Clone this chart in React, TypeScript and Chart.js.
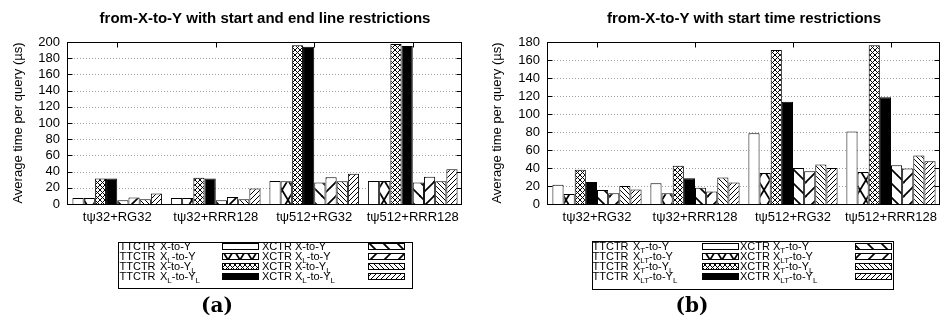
import React, { useEffect, useRef } from "react";
import { Chart, registerables } from "chart.js";

Chart.register(...registerables);

const SANS = '"Liberation Sans", Arial, sans-serif';
const SERIF = '"DejaVu Serif", serif';

const categories = ["tψ32+RG32", "tψ32+RRR128", "tψ512+RG32", "tψ512+RRR128"];
const indexNames = ["TTCTR", "XCTR"];
const yTitle = "Average time per query (µs)";

// (a) start and end line restrictions, average µs per query
const aTitle = "from-X-to-Y with start and end line restrictions";
const aTtctrXY = [7.5, 7.5, 28.5, 28.5];
const aTtctrXLY = [7.5, 7.5, 28, 28.5];
const aTtctrXYL = [31.5, 32.5, 196, 197.5];
const aTtctrXLYL = [31.5, 31.5, 194, 195];
const aXctrXY = [4.5, 4.5, 26.5, 26.5];
const aXctrXLY = [8, 8.5, 33, 33.5];
const aXctrXYL = [6, 6, 28, 28];
const aXctrXLYL = [13, 19, 37.5, 43];
const aQueries = ["X-to-Y", "X_{L}-to-Y", "X-to-Y_{L}", "X_{L}-to-Y_{L}"];
const aTicks = { max: 200, step: 20 };

// (b) start time restrictions, average µs per query
const bTitle = "from-X-to-Y with start time restrictions";
const bTtctrXY = [21.5, 23, 78.5, 80.5];
const bTtctrXLY = [11, 12, 34.5, 35.5];
const bTtctrXYL = [38, 42.5, 171, 176.5];
const bTtctrXLYL = [24.5, 28.5, 113.5, 118.5];
const bXctrXY = [15.5, 18, 40, 43];
const bXctrXLY = [12, 14, 36.5, 39.5];
const bXctrXYL = [20, 29.5, 44, 54];
const bXctrXLYL = [16, 24, 40, 47.5];
const bQueries = ["X_{T}-to-Y", "X_{LT}-to-Y", "X_{T}-to-Y_{L}", "X_{LT}-to-Y_{L}"];
const bTicks = { max: 180, step: 20 };

// fill style of each series, in legend order
const fillKinds = ["empty", "bigX", "fineX", "solid", "bigBack", "bigFwd", "fineBack", "fineFwd"];

function tile(w: number, h: number, lw: number, draw: (g: CanvasRenderingContext2D) => void) {
  const c = document.createElement("canvas");
  c.width = w;
  c.height = h;
  const g = c.getContext("2d")!;
  g.fillStyle = "#fff";
  g.fillRect(0, 0, w, h);
  g.strokeStyle = "#000";
  g.lineWidth = lw;
  g.lineCap = "square";
  draw(g);
  return g.createPattern(c, "repeat")!;
}

function seg(g: CanvasRenderingContext2D, x1: number, y1: number, x2: number, y2: number) {
  g.beginPath();
  g.moveTo(x1, y1);
  g.lineTo(x2, y2);
  g.stroke();
}

function hatch(s: number, lw: number, back: boolean, cross: boolean, h = s) {
  return tile(s, h, lw, (g) => {
    for (let i = -1; i <= 1; i++) {
      for (let j = -1; j <= 1; j++) {
        const ox = i * s;
        const oy = j * h;
        if (back || cross) seg(g, ox, oy, ox + s, oy + h);
        if (!back || cross) seg(g, ox, oy + h, ox + s, oy);
      }
    }
  });
}

function makeFill(kind: string): string | CanvasPattern {
  switch (kind) {
    case "empty":
      return "#ffffff";
    case "solid":
      return "#000000";
    case "bigX":
      return hatch(12, 1.7, true, true, 20);
    case "fineX":
      return hatch(5, 1, true, true);
    case "bigBack":
      return hatch(14, 1.7, true, false);
    case "bigFwd":
      return hatch(14, 1.7, false, false);
    case "fineBack":
      return hatch(5, 1, true, false);
    default:
      return hatch(5, 1, false, false);
  }
}

// Draws text in which _{...} marks a subscript
function drawRich(ctx: CanvasRenderingContext2D, text: string, x: number, baseline: number, size: number) {
  const parts = text.split(/(_\{[^}]*\})/).filter((p) => p.length);
  let cx = x;
  ctx.textAlign = "left";
  ctx.textBaseline = "alphabetic";
  for (const p of parts) {
    if (p.startsWith("_{")) {
      const t = p.slice(2, -1);
      ctx.font = `${Math.round(size * 0.75)}px ${SANS}`;
      ctx.fillText(t, cx, baseline + size * 0.3);
      cx += ctx.measureText(t).width;
    } else {
      ctx.font = `${size}px ${SANS}`;
      ctx.fillText(p, cx, baseline);
      cx += ctx.measureText(p).width;
    }
  }
}

type LegendCol = { prefix: number; query: number; swatch: number };
type PanelCfg = {
  canvasLeft: number;
  canvasWidth: number;
  yScaleWidth: number;
  padRight: number;
  yTitlePad: number;
  title: string;
  ticks: { max: number; step: number };
  series: number[][];
  queries: string[];
  box: [number, number, number, number];
  cols: LegendCol[];
  caption: string;
  captionX: number;
};

const panels: PanelCfg[] = [
  {
    canvasLeft: 0,
    canvasWidth: 470,
    yScaleWidth: 68,
    padRight: 8,
    yTitlePad: 11,
    title: aTitle,
    ticks: aTicks,
    series: [aTtctrXY, aTtctrXLY, aTtctrXYL, aTtctrXLYL, aXctrXY, aXctrXLY, aXctrXYL, aXctrXLYL],
    queries: aQueries,
    box: [118, 242, 412, 288],
    cols: [
      { prefix: 119.5, query: 160, swatch: 222 },
      { prefix: 262, query: 295, swatch: 368 },
    ],
    caption: "(a)",
    captionX: 217,
  },
  {
    canvasLeft: 470,
    canvasWidth: 473,
    yScaleWidth: 78,
    padRight: 0,
    yTitlePad: 20,
    title: bTitle,
    ticks: bTicks,
    series: [bTtctrXY, bTtctrXLY, bTtctrXYL, bTtctrXLYL, bXctrXY, bXctrXLY, bXctrXYL, bXctrXLYL],
    queries: bQueries,
    box: [122, 241, 423, 289],
    cols: [
      { prefix: 122.5, query: 163, swatch: 232 },
      { prefix: 270, query: 303, swatch: 385 },
    ],
    caption: "(b)",
    captionX: 222,
  },
];

function decorations(cfg: PanelCfg) {
  return {
    id: "decorations",
    beforeDatasetsDraw(chart: any) {
      const { ctx, chartArea: a, scales } = chart;
      const y = scales.y;
      ctx.save();
      ctx.strokeStyle = "#a0a0a0";
      ctx.lineWidth = 1;
      ctx.setLineDash([1, 2]);
      for (const t of y.ticks) {
        if (t.value <= 0 || t.value >= cfg.ticks.max) continue;
        const py = Math.round(y.getPixelForValue(t.value)) + 0.5;
        seg(ctx, a.left, py, a.right, py);
      }
      ctx.restore();
    },
    afterDatasetsDraw(chart: any) {
      const { ctx, chartArea: a, scales } = chart;
      const x = scales.x;
      const y = scales.y;
      ctx.save();
      ctx.strokeStyle = "#000";
      ctx.lineWidth = 1;
      const l = Math.round(a.left) - 0.5;
      const r = Math.round(a.right) - 0.5;
      const t = Math.round(a.top) + 0.5;
      const b = Math.round(a.bottom) + 0.5;
      ctx.strokeRect(l, t, r - l, b - t);
      for (const tk of y.ticks) {
        const py = Math.round(y.getPixelForValue(tk.value)) + 0.5;
        seg(ctx, l, py, l + 5, py);
        seg(ctx, r, py, r - 5, py);
      }
      categories.forEach((_, i) => {
        const px = Math.round(x.getPixelForValue(i)) + 0.5;
        seg(ctx, px, t, px, t + 5);
      });
      ctx.restore();
    },
    afterDraw(chart: any) {
      const { ctx, chartArea: a } = chart;
      ctx.save();
      ctx.fillStyle = "#000";
      ctx.font = `bold 15px ${SANS}`;
      ctx.textAlign = "center";
      ctx.textBaseline = "middle";
      ctx.fillText(cfg.title, (a.left + a.right) / 2, 19);

      // legend: two columns of four entries, text then swatch
      const [x1, y1, x2, y2] = cfg.box;
      ctx.lineWidth = 1;
      ctx.strokeStyle = "#000";
      ctx.strokeRect(x1 + 0.5, y1 + 0.5, x2 - x1, y2 - y1);
      chart.data.datasets.forEach((ds: any, i: number) => {
        const col = cfg.cols[i < 4 ? 0 : 1];
        const row = i % 4;
        const cy = 246 + row * 10;
        ctx.fillStyle = "#000";
        drawRich(ctx, indexNames[i < 4 ? 0 : 1], col.prefix, cy + 4, 11);
        drawRich(ctx, cfg.queries[row], col.query, cy + 4, 11);
        ctx.fillStyle = ds.backgroundColor;
        ctx.fillRect(col.swatch, cy - 3, 36, 6);
        ctx.strokeRect(col.swatch + 0.5, cy - 3 + 0.5, 36, 6);
      });

      ctx.fillStyle = "#000";
      ctx.font = `bold 20px ${SERIF}`;
      ctx.textAlign = "center";
      ctx.textBaseline = "middle";
      ctx.fillText(cfg.caption, cfg.captionX, 307);
      ctx.restore();
    },
  };
}

function Panel({ cfg }: { cfg: PanelCfg }) {
  const ref = useRef<HTMLCanvasElement>(null);
  useEffect(() => {
    const canvas = ref.current!;
    const fills = fillKinds.map(makeFill);
    const chart = new Chart(canvas, {
      type: "bar",
      data: {
        labels: categories,
        datasets: cfg.series.map((values, i) => ({
          label: `${indexNames[i < 4 ? 0 : 1]} ${cfg.queries[i % 4]}`,
          data: values,
          backgroundColor: fills[i] as any,
          borderColor: "#000",
          borderWidth: 1,
          categoryPercentage: 0.91,
          barPercentage: 1,
        })),
      },
      options: {
        responsive: false,
        animation: false,
        events: [],
        layout: { padding: { top: 42, left: 0, right: cfg.padRight, bottom: 0 } },
        plugins: {
          legend: { display: false },
          title: { display: false },
          tooltip: { enabled: false },
        },
        scales: {
          x: {
            grid: { display: false, drawTicks: false },
            border: { display: false },
            ticks: {
              color: "#000",
              font: { family: SANS, size: 13 },
              padding: 6,
              maxRotation: 0,
              autoSkip: false,
            },
            afterFit: (s: any) => {
              s.height = 118;
            },
          },
          y: {
            min: 0,
            max: cfg.ticks.max,
            grid: { display: false, drawTicks: false },
            border: { display: false },
            ticks: {
              stepSize: cfg.ticks.step,
              autoSkip: false,
              color: "#000",
              font: { family: SANS, size: 13 },
              padding: 8,
            },
            title: {
              display: true,
              text: yTitle,
              color: "#000",
              font: { family: SANS, size: 13 },
              padding: { top: cfg.yTitlePad, bottom: 0 },
            },
            afterFit: (s: any) => {
              s.width = cfg.yScaleWidth;
            },
          },
        },
      },
      plugins: [decorations(cfg)],
    });
    return () => chart.destroy();
  }, [cfg]);
  return (
    <canvas
      ref={ref}
      width={cfg.canvasWidth}
      height={322}
      style={{ position: "absolute", left: cfg.canvasLeft, top: 0, display: "block" }}
    />
  );
}

export default function App() {
  return (
    <div
      style={{
        position: "fixed",
        left: 0,
        top: 0,
        width: 940,
        height: 322,
        overflow: "hidden",
        background: "#fff",
      }}
    >
      {panels.map((p) => (
        <Panel key={p.caption} cfg={p} />
      ))}
    </div>
  );
}
